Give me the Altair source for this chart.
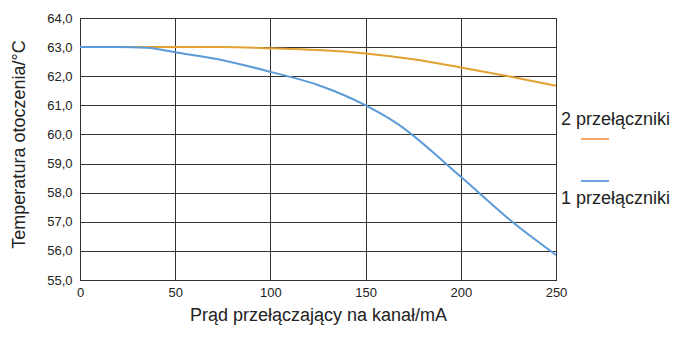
import altair as alt
import pandas as pd

# data
x_vals = [0, 25, 50, 75, 100, 125, 150, 175, 200, 225, 250]
two_switch = [63.0, 63.0, 63.0, 63.0, 62.96, 62.9, 62.78, 62.58, 62.3, 62.0, 61.67]
one_x = [0, 20, 35, 50, 75, 100, 125, 150, 166, 200, 227, 250]
one_switch = [63.0, 63.0, 62.98, 62.82, 62.55, 62.15, 61.7, 61.0, 60.4, 58.55, 57.0, 55.86]
y_ticks = [55, 56, 57, 58, 59, 60, 61, 62, 63, 64]
x_ticks = [0, 50, 100, 150, 200, 250]
legend_labels = ["2 przełączniki", "1 przełączniki"]

df = pd.DataFrame(
    [{"x": a, "y": b, "s": "2"} for a, b in zip(x_vals, two_switch)]
    + [{"x": a, "y": b, "s": "1"} for a, b in zip(one_x, one_switch)]
)

FONT = "Liberation Sans"

lines = alt.Chart(df).mark_line(strokeWidth=2, interpolate="monotone").encode(
    x=alt.X("x:Q", scale=alt.Scale(domain=[0, 250], nice=False),
            axis=alt.Axis(values=x_ticks, title="Prąd przełączający na kanał/mA",
                          titleFontSize=18, titleFontWeight="normal",
                          titleY=35, titleBaseline="middle",
                          labelFontSize=13, ticks=False, labelPadding=6, labelFlush=False,
                          gridColor="#333333", gridOpacity=1, domainColor="#333333")),
    y=alt.Y("y:Q", scale=alt.Scale(domain=[55, 64], nice=False),
            axis=alt.Axis(values=y_ticks, title="Temperatura otoczenia/°C",
                          labelExpr="replace(format(datum.value, '.1f'), '.', ',')",
                          titleFontSize=18, titleFontWeight="normal",
                          titleX=-61, titleY=126, titleAngle=-90,
                          titleAlign="center", titleBaseline="middle",
                          labelFontSize=13, ticks=False, labelPadding=8, labelFlush=False,
                          gridColor="#333333", gridOpacity=1, domainColor="#333333")),
    color=alt.Color("s:N", scale=alt.Scale(domain=["2", "1"], range=["#E2A232", "#5B9BD8"]), legend=None),
    order=alt.Order("x:Q"),
)

leg2 = alt.Chart(pd.DataFrame({"t": [legend_labels[0]]})).mark_text(
    align="left", baseline="middle", fontSize=18, font=FONT, color="#222").encode(
    text="t:N", x=alt.value(481), y=alt.value(102))
leg1 = alt.Chart(pd.DataFrame({"t": [legend_labels[1]]})).mark_text(
    align="left", baseline="middle", fontSize=18, font=FONT, color="#222").encode(
    text="t:N", x=alt.value(481), y=alt.value(181))
rule2 = alt.Chart(pd.DataFrame({"a": [0]})).mark_rule(strokeWidth=2, color="#F5A56E").encode(
    x=alt.value(501), x2=alt.value(529), y=alt.value(121))
rule1 = alt.Chart(pd.DataFrame({"a": [0]})).mark_rule(strokeWidth=2, color="#6AA6DE").encode(
    x=alt.value(501), x2=alt.value(529), y=alt.value(163))

chart = alt.layer(lines, leg2, leg1, rule2, rule1).properties(
    width=476, height=262,
    autosize=alt.AutoSizeParams(type="none"),
    padding={"left": 72, "top": 10, "right": 117, "bottom": 49},
).configure(font=FONT).configure_view(stroke="#333333", strokeWidth=1).configure_axis(
    labelColor="#222", titleColor="#222", labelFont=FONT, titleFont=FONT, gridWidth=1)

chart.save("out.html", embed_options={"renderer": "svg", "actions": False})
